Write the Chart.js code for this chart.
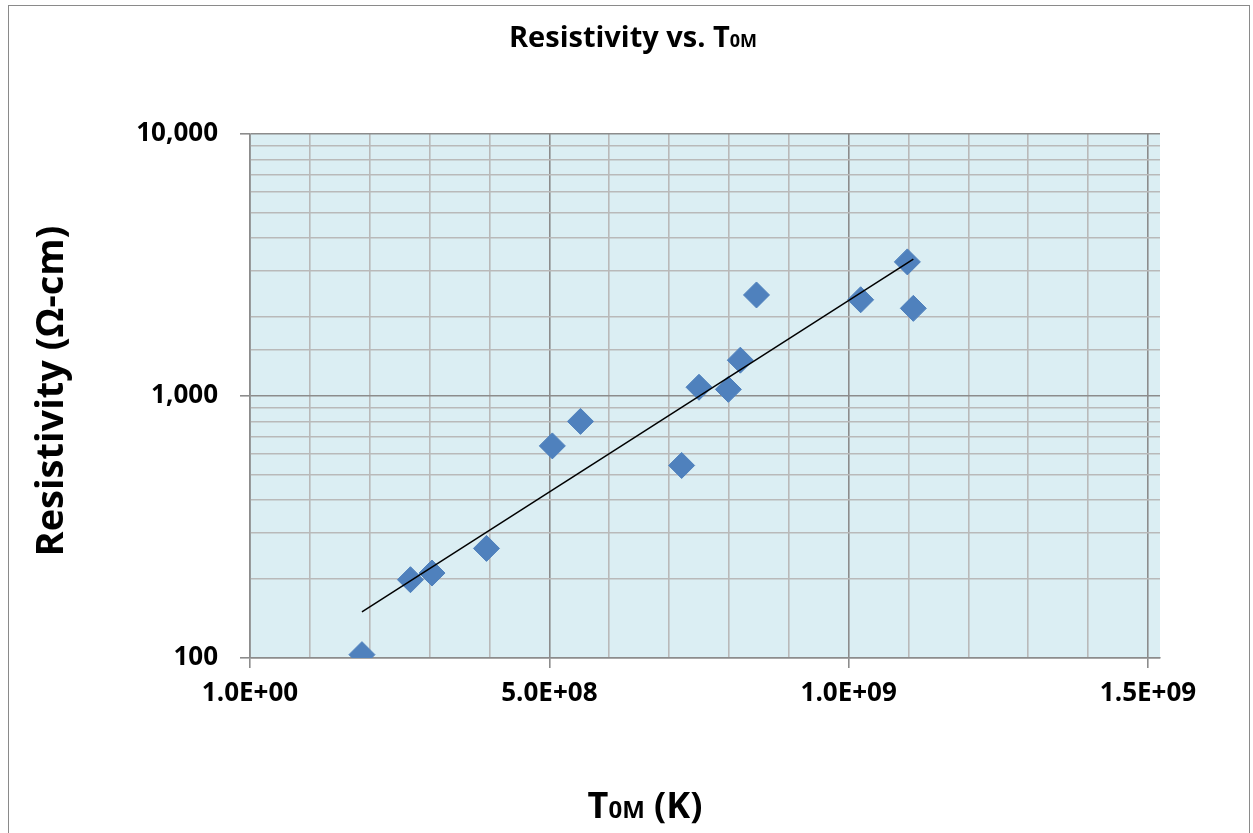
<!DOCTYPE html>
<html>
<head>
<meta charset="utf-8">
<script src="https://cdn.jsdelivr.net/npm/chart.js@4/dist/chart.umd.min.js"></script>
<style>
    html, body { margin: 0; padding: 0; background: #fff; }
    #wrap { width: 1253px; height: 833px; position: relative; }
</style>
</head>
<body>
<div id="wrap"><canvas id="chart" width="1253" height="833"></canvas></div>
<script>
// Data
var tempT0M = [1.87e8, 2.68e8, 3.04e8, 3.95e8, 5.05e8, 5.52e8, 7.21e8, 7.50e8, 7.99e8, 8.19e8, 8.46e8, 1.02e9, 1.098e9, 1.108e9];
var resistivity = [103, 199, 211, 262, 645, 800, 543, 1080, 1060, 1370, 2430, 2330, 3250, 2160];

// trend line end points (exponential fit, straight on log axis)
var trendX = [1.87e8, 1.108e9];
var trendY = [150, 3330];

var xTickValues = [0, 5e8, 1e9, 1.5e9];
var xTickLabels = ['1.0E+00', '5.0E+08', '1.0E+09', '1.5E+09'];
var xGridStep = 1e8;
var yTickValues = [100, 1000, 10000];
var yTickLabels = ['100', '1,000', '10,000'];

var fontFam = "'Open Sans', Calibri, Carlito, sans-serif";

function isMajorX(v) {
    return xTickValues.some(function (t) { return Math.abs(t - v) < 1; });
}
function isMajorY(v) {
    return yTickValues.some(function (t) { return Math.abs(t - v) < 1e-6; });
}

// draws text made of parts with different sizes, centred on cx
function drawParts(ctx, parts, cx, baseline) {
    var total = 0;
    parts.forEach(function (p) {
        ctx.font = 'bold ' + p.size + 'px ' + fontFam;
        p.w = ctx.measureText(p.text).width;
        total += p.w;
    });
    var x = cx - total / 2;
    ctx.textAlign = 'left';
    ctx.textBaseline = 'alphabetic';
    parts.forEach(function (p) {
        ctx.font = 'bold ' + p.size + 'px ' + fontFam;
        ctx.fillText(p.text, x, baseline);
        x += p.w;
    });
}

var decorPlugin = {
    id: 'decor',
    beforeDraw: function (chart) {
        var ctx = chart.ctx, a = chart.chartArea;
        ctx.save();
        ctx.fillStyle = '#DBEEF3';
        ctx.fillRect(a.left, a.top, a.right - a.left, a.bottom - a.top);
        ctx.restore();
    },
    afterDraw: function (chart) {
        var ctx = chart.ctx;
        ctx.save();
        ctx.strokeStyle = '#8a8a8a';
        ctx.lineWidth = 1;
        ctx.strokeRect(8.5, 5.5, 1241, 840);
        ctx.fillStyle = '#000';
        // chart title
        drawParts(ctx, [
            { text: 'Resistivity vs. T', size: 29 },
            { text: '0M', size: 18 }
        ], 633, 47);
        // x axis title
        drawParts(ctx, [
            { text: 'T', size: 36 },
            { text: '0M', size: 24 },
            { text: ' (K)', size: 36 }
        ], 645, 818);
        // y axis title
        ctx.translate(52, 391);
        ctx.rotate(-Math.PI / 2);
        drawParts(ctx, [{ text: 'Resistivity (\u03A9-cm)', size: 38 }], 0, 11);
        ctx.restore();
    }
};

var points = tempT0M.map(function (x, i) { return { x: x, y: resistivity[i] }; });
var trend = trendX.map(function (x, i) { return { x: x, y: trendY[i] }; });

new Chart(document.getElementById('chart').getContext('2d'), {
    type: 'scatter',
    data: {
        datasets: [
            {
                label: 'Trend',
                data: trend,
                showLine: true,
                borderColor: '#000',
                borderWidth: 1.5,
                pointRadius: 0,
                fill: false
            },
            {
                label: 'Resistivity',
                data: points,
                pointStyle: 'rectRot',
                pointRadius: 13,
                backgroundColor: '#4F81BD',
                borderColor: '#4F81BD',
                borderWidth: 1
            }
        ]
    },
    options: {
        responsive: false,
        animation: false,
        layout: { padding: { top: 134, right: 93, left: 10, bottom: 10 } },
        plugins: {
            legend: { display: false },
            tooltip: { enabled: false }
        },
        scales: {
            x: {
                type: 'linear',
                min: 0,
                max: 1.52e9,
                // grid every 1e8 up to the last labelled value
                afterBuildTicks: function (scale) {
                    var t = [];
                    var last = xTickValues[xTickValues.length - 1];
                    for (var v = 0; v <= last + 1; v += xGridStep) t.push({ value: v });
                    scale.ticks = t;
                },
                afterFit: function (scale) { scale.height = 833 - 658 - 10; },
                ticks: {
                    autoSkip: false,
                    maxRotation: 0,
                    padding: 10,
                    color: '#000',
                    font: { family: fontFam, size: 26, weight: 'bold' },
                    callback: function (v) {
                        var i = xTickValues.findIndex(function (t) { return Math.abs(t - v) < 1; });
                        return i >= 0 ? xTickLabels[i] : '';
                    }
                },
                grid: {
                    color: function (c) { return c.tick && isMajorX(c.tick.value) ? '#8c8c8c' : '#b9b9b9'; },
                    lineWidth: 1.6,
                    tickLength: 10,
                    tickColor: function (c) { return c.tick && isMajorX(c.tick.value) ? '#8c8c8c' : 'rgba(0,0,0,0)'; }
                },
                border: { color: '#8c8c8c', width: 1.6 }
            },
            y: {
                type: 'logarithmic',
                min: 100,
                max: 10000,
                afterFit: function (scale) { scale.width = 240; },
                ticks: {
                    autoSkip: false,
                    padding: 22,
                    color: '#000',
                    font: { family: fontFam, size: 26, weight: 'bold' },
                    callback: function (v) {
                        var i = yTickValues.findIndex(function (t) { return Math.abs(t - v) < 1e-6; });
                        return i >= 0 ? yTickLabels[i] : '';
                    }
                },
                grid: {
                    color: function (c) { return isMajorY(c.tick.value) ? '#8c8c8c' : '#b9b9b9'; },
                    lineWidth: 1.6,
                    tickLength: 10,
                    tickColor: function (c) { return isMajorY(c.tick.value) ? '#8c8c8c' : 'rgba(0,0,0,0)'; }
                },
                border: { color: '#8c8c8c', width: 1.6 }
            }
        }
    },
    plugins: [decorPlugin]
});
</script>
</body>
</html>
